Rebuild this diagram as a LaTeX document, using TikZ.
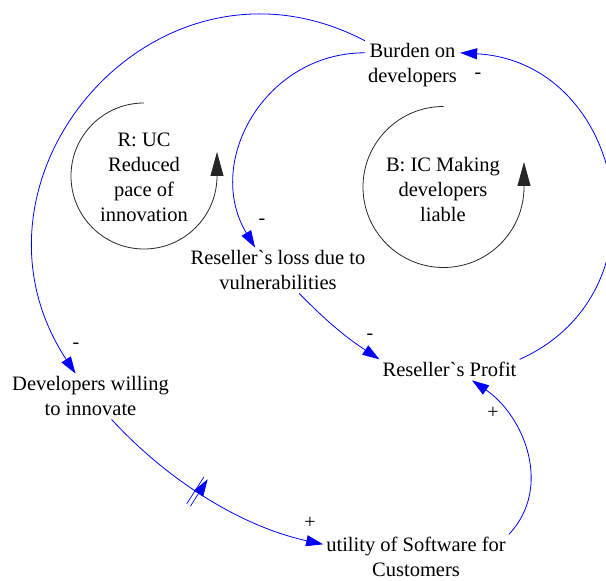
\documentclass[tikz,border=0pt]{standalone}
\usepackage{fontspec}
\setmainfont{Liberation Serif}[Ligatures=TeXOff]
\usetikzlibrary{arrows.meta,decorations.markings}

\tikzset{
  var/.style={align=center, inner sep=3pt, anchor=base,
              font=\fontsize{20.5}{25}\selectfont},
  sgn/.style={inner sep=0pt, font=\fontsize{20}{24}\selectfont},
  link/.style={draw=blue, line width=0.8pt,
               -{Triangle[length=17pt,width=11pt]}},
  loopmark/.style={draw=black!85, line width=0.8pt,
                   -{Triangle[length=24pt,width=13pt]}},
  delaymark/.style={postaction={decorate, decoration={markings,
      mark=at position 0.45 with {
        \draw[blue, line width=0.7pt]
          (-2.2pt,-16pt) -- (-2.2pt,16pt)
          (2.2pt,-16pt) -- (2.2pt,16pt);}}}}
}

\begin{document}
\begin{tikzpicture}[x=1pt, y=1pt]
  \useasboundingbox (0,0) rectangle (606,581);
  \clip (0,0) rectangle (606,581);

  % variables (placed on the baseline of their last line)
  \node[var] (burden)  at (412.5,498) {Burden on\\developers};
  \node[var] (loss)    at (278,291)   {Reseller`s loss due to\\vulnerabilities};
  \node[var] (profit)  at (449.5,204) {Reseller`s Profit};
  \node[var] (devw)    at (90.5,165)  {Developers willing\\to innovate};
  \node[var] (utility) at (416,4)     {utility of Software for\\Customers};

  % loop labels
  \node[var] (rtext) at (144,359) {R: UC\\Reduced\\pace of\\innovation};
  \node[var] (btext) at (443,359) {B: IC Making\\developers\\liable};

  % loop markers
  \coordinate (rc) at (144,405);
  \coordinate (bc) at (443.5,394);
  \draw[loopmark] (rc) ++(0,73pt) arc[start angle=90, end angle=360, radius=73pt] -- ++(0,24pt);
  \draw[loopmark] (bc) ++(0,80.5pt) arc[start angle=90, end angle=360, radius=80.5pt] -- ++(0,25pt);

  % causal links
  \draw[link] (burden) to[out=152.5, in=123.3, looseness=1.36] (devw);
  \draw[link] (burden.165) to[out=180, in=121, looseness=1.14] (loss.135);
  \draw[link] (loss) to[bend right=6] (profit.north west);
  \draw[link] (profit.north east) to[out=24, in=-3.3, looseness=1.36] (burden.15);
  \draw[link] (utility.north east) to[out=46.5, in=-34.4, looseness=1.03] (profit.-25);
  \draw[link, delaymark] (devw) to[out=-47.6, in=167.7, looseness=0.87] (utility.172);

  % polarities
  \node[sgn] (p1) at (478,505) {-};
  \node[sgn] (p2) at (262,359) {-};
  \node[sgn] (p3) at (76,235)  {-};
  \node[sgn] (p4) at (370,244) {-};
  \node[sgn] (p5) at (493,168) {+};
  \node[sgn] (p6) at (310,58)  {+};
\end{tikzpicture}
\end{document}
